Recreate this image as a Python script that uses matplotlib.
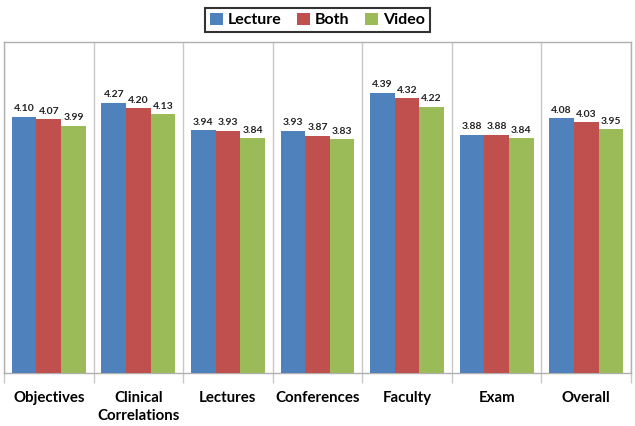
import matplotlib.pyplot as plt
import numpy as np

categories = ["Objectives", "Clinical\nCorrelations", "Lectures", "Conferences",
              "Faculty", "Exam", "Overall"]
lecture = [4.10, 4.27, 3.94, 3.93, 4.39, 3.88, 4.08]
both = [4.07, 4.20, 3.93, 3.87, 4.32, 3.88, 4.03]
video = [3.99, 4.13, 3.84, 3.83, 4.22, 3.84, 3.95]

series = [("Lecture", lecture, "#4F81BD"),
          ("Both", both, "#C0504D"),
          ("Video", video, "#9BBB59")]

plt.rcParams['font.family'] = ['Lato', 'DejaVu Sans']

fig = plt.figure(figsize=(6.35, 4.26), dpi=100)
ax = fig.add_axes([0.0063, 0.1244, 0.9874, 0.7766])

x = np.arange(len(categories))
w = 0.275
for i, (name, vals, col) in enumerate(series):
    pos = x + (i - 1) * w
    bars = ax.bar(pos, vals, width=w, color=col, label=name, zorder=3)
    for p, v in zip(pos, vals):
        ax.text(p, v + 0.04, "%.2f" % v, ha="center", va="bottom",
                fontsize=7.5, fontweight="bold", color="#222222")

ax.set_xlim(-0.5, len(categories) - 0.5)
ax.set_ylim(1, 5)
ax.set_yticks([])

ax.set_xticks(x)
ax.set_xticklabels(categories, fontsize=10.8, fontweight="bold", linespacing=1.35)
ax.tick_params(axis="x", which="major", length=0, pad=13)
ax.set_xticks(np.arange(len(categories) + 1) - 0.5, minor=True)
ax.tick_params(axis="x", which="minor", length=7, color="#c8c8c8", width=1)
ax.grid(axis="x", which="minor", color="#c8c8c8", lw=1, zorder=0)

for s in ax.spines.values():
    s.set_color("#b0b0b0")
    s.set_linewidth(1)

leg = fig.legend(loc="upper center", bbox_to_anchor=(0.5, 1.0), ncol=3,
                 frameon=True, fancybox=False, edgecolor="black",
                 prop={"weight": "bold", "size": 11.5}, handlelength=0.8,
                 handleheight=0.8, handletextpad=0.3, columnspacing=1.0,
                 borderpad=0.3)
leg.get_frame().set_linewidth(1.5)

fig.savefig("out.png", dpi=100)
